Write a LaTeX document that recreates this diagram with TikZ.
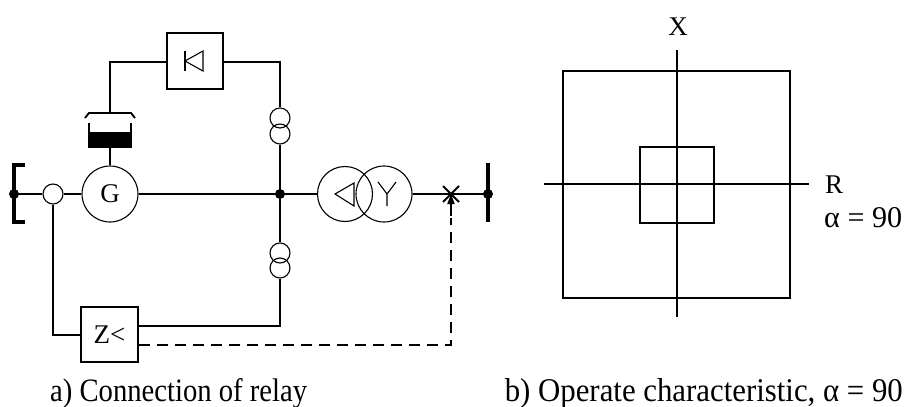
\documentclass[tikz,border=0pt]{standalone}
\usepackage{fontspec}
\usepackage{graphicx}
\setmainfont{Liberation Serif}
\usetikzlibrary{arrows.meta}
\begin{document}
\begin{tikzpicture}[x=1pt,y=-1pt,
  wire/.style={line width=1.8pt},
  thinline/.style={line width=1.1pt},
  ring/.style={circle,draw,line width=1.1pt,inner sep=0pt,minimum size=#1},
  dotnode/.style={circle,fill,inner sep=0pt,minimum size=10pt},
  boxnode/.style={draw,line width=1.8pt,inner sep=0pt,minimum width=56pt,minimum height=56pt},
  lbl/.style={font=\fontsize{27}{27}\selectfont,inner sep=0pt},
  captext/.style={font=\fontsize{24}{24}\selectfont,inner sep=0pt},
  bus/.style={line width=3.5pt}]
\useasboundingbox (0,0) rectangle (906,407);

% ---------- left: connection ----------
\coordinate (lb) at (14,194);
\coordinate (jc) at (280,194);
\coordinate (rbc) at (488,194);
\coordinate (brk) at (451,194);
\draw[bus] (25,165) -- (14,165) -- (14,222) -- (25,222);
\draw[line width=4pt] (488,163) -- (488,222);
\node[ring=20pt] (ct0) at (53,194) {};
\node[ring=56pt,font=\fontsize{27}{27}\selectfont] (G) at (110,194) {G};
\node[ring=55pt] (T1) at (345,194) {};
\node[ring=56pt] (T2) at (384,194) {};

% transformer symbols
\draw[thinline] (335,194) -- (354,183) -- (354,206) -- cycle;
\draw[thinline] (387,206) -- (387,194) -- (378,182);
\draw[thinline] (387,194) -- (396,182);

% current transformers
\node[ring=20pt] (ct1) at (280,118) {};
\node[ring=20pt] (ct2) at (280,134) {};
\node[ring=20pt] (ct3) at (280,253) {};
\node[ring=20pt] (ct4) at (280,268) {};

% main line
\draw[wire] (lb) -- (ct0.west);
\draw[wire] (ct0.east) -- (G.west);
\draw[wire] (G.east) -- (jc) -- (T1.west);
\draw[wire] (T2.east) -- (rbc);
\draw[wire] (443,186) -- (459,202);
\draw[wire] (443,202) -- (459,186);
\draw[wire] (ct2.south) -- (jc) -- (ct3.north);
\node[dotnode] (lbd) at (lb) {};
\node[dotnode] (j) at (jc) {};
\node[dotnode] (rb) at (rbc) {};

% rectifier box
\node[boxnode] (D) at (195,61) {};
\draw[thinline] (185,51) -- (185,71);
\draw[thinline] (203,51) -- (185,61) -- (203,71) -- cycle;
\draw[wire] (ct1.north) -- (280,62) -- (D.east |- 0,62);
\draw[wire] (D.west |- 0,62) -- (110,62) -- (110,113);

% battery
\draw[wire] (85,118) -- (89,113) -- (131,113) -- (135,118);
\draw[wire] (89,123) -- (89,147) -- (131,147) -- (131,123);
\fill (89,132) rectangle (131,147);
\draw[wire] (110,147) -- (G.north);

% impedance relay
\node[boxnode,minimum width=57pt,minimum height=55pt,font=\fontsize{27}{27}\selectfont] (Z) at (109.5,334.5) {Z<};
\draw[wire] (ct4.south) -- (280,326) -- (Z.east |- 0,326);
\draw[wire] (ct0.south) -- (53,335) -- (Z.west |- 0,335);
\draw[wire,dash pattern=on 11pt off 7pt] (Z.east |- 0,345) -- (451,345) -- (451,218);
\draw[wire,-{Triangle[length=10pt,width=7pt]}] (451,216) -- (brk);

% ---------- right: characteristic ----------
\draw[wire] (563,71) rectangle (790,298);
\draw[wire] (640,147) rectangle (714,223);
\coordinate (xt) at (677,50);
\coordinate (xb) at (677,317);
\coordinate (rl) at (544,184);
\coordinate (rr) at (809,184);
\draw[wire] (xt) -- (xb);
\draw[wire] (rl) -- (rr);
\node[lbl] (X) at (678,27) {X};
\node[lbl,anchor=west] (R) at (825,185) {R};
\node[lbl,anchor=west] (al) at (824,218) {\resizebox{78pt}{!}{α = 90}};

% captions
\node[captext,anchor=base west] (ca) at (50,401) {\resizebox{257pt}{23pt}{a) Connection of relay}};
\node[captext,anchor=base east] (cb) at (903,401) {\resizebox{398pt}{23pt}{b) Operate characteristic, α = 90}};
\end{tikzpicture}
\end{document}
